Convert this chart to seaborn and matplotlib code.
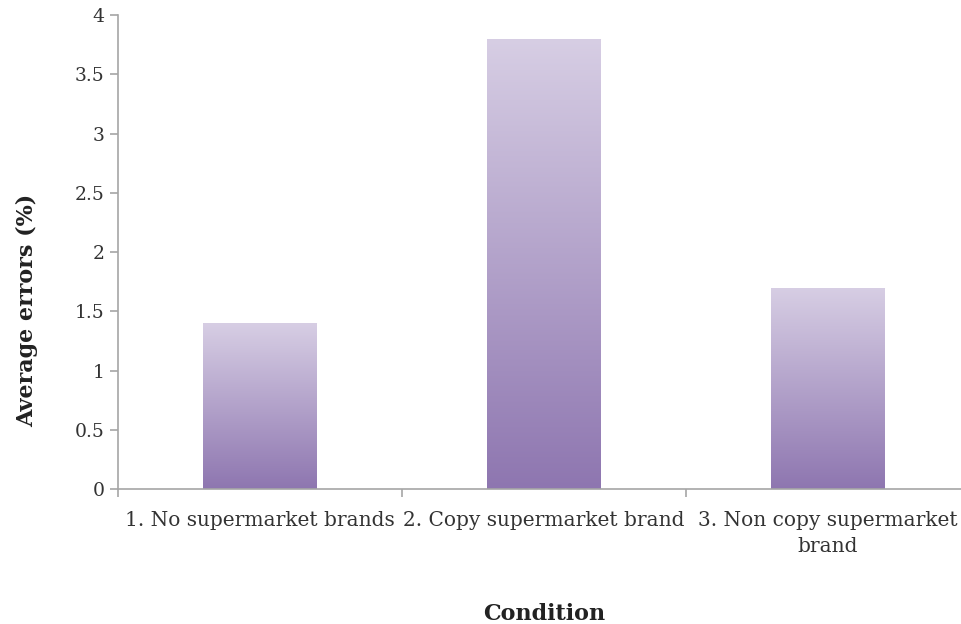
import numpy as np
import pandas as pd
import matplotlib
matplotlib.use("Agg")
import matplotlib.pyplot as plt
from matplotlib.colors import LinearSegmentedColormap
import seaborn as sns

# data
conditions = ["1. No supermarket brands", "2. Copy supermarket brand", "3. Non copy supermarket\nbrand"]
errors = [1.4, 3.8, 1.7]
y_ticks = [0, 0.5, 1, 1.5, 2, 2.5, 3, 3.5, 4]
y_tick_labels = ["0", "0.5", "1", "1.5", "2", "2.5", "3", "3.5", "4"]

df = pd.DataFrame({"Condition": conditions, "Errors": errors})

sns.set_style("white")
plt.rcParams["font.family"] = ["DejaVu Serif"]

fig = plt.figure(figsize=(9.61, 6.24), dpi=100)
ax = fig.add_axes([0.123, 0.216, 0.886, 0.76])

sns.barplot(data=df, x="Condition", y="Errors", color="#a48fc0", width=0.4, ax=ax)

# vertical purple gradient inside each bar
grad_cmap = LinearSegmentedColormap.from_list("lav", ["#8e76b0", "#d7cee4"])
grad = np.linspace(0, 1, 256).reshape(-1, 1)
for bar in ax.patches:
    x0, y0 = bar.get_x(), bar.get_y()
    w, h = bar.get_width(), bar.get_height()
    im = ax.imshow(grad, cmap=grad_cmap, origin="lower", aspect="auto",
                   extent=[x0, x0 + w, y0, y0 + h], zorder=bar.get_zorder() + 0.1)
    im.set_clip_path(bar)

ax.set_xlim(-0.5, 2.5)
ax.set_ylim(0, 4)
ax.set_yticks(y_ticks)
ax.set_yticklabels(y_tick_labels)

ax.set_xticks([0, 1, 2])
ax.set_xticklabels(conditions, linespacing=1.45)
ax.set_xticks([-0.5, 0.5, 1.5, 2.5], minor=True)
ax.tick_params(axis="x", which="both", bottom=True)
ax.tick_params(axis="y", left=True)
ax.tick_params(axis="x", which="major", length=0, pad=16, labelsize=14.5, labelcolor="#333333")
ax.tick_params(axis="x", which="minor", length=6, width=1.2, color="#a6a6a6", direction="out")
ax.tick_params(axis="y", length=6, width=1.2, color="#a6a6a6", direction="out",
               labelsize=13.5, labelcolor="#333333", pad=4)

for s in ["top", "right"]:
    ax.spines[s].set_visible(False)
for s in ["left", "bottom"]:
    ax.spines[s].set_color("#a6a6a6")
    ax.spines[s].set_linewidth(1.2)

ax.set_xlabel("Condition", fontsize=16, fontweight="bold", color="#222222", va="center")
ax.xaxis.set_label_coords(0.5, -0.264)
ax.set_ylabel("Average errors (%)", fontsize=16, fontweight="bold", color="#222222", va="center")
ax.yaxis.set_label_coords(-0.107, 0.378)

fig.savefig("out.png", dpi=100)
